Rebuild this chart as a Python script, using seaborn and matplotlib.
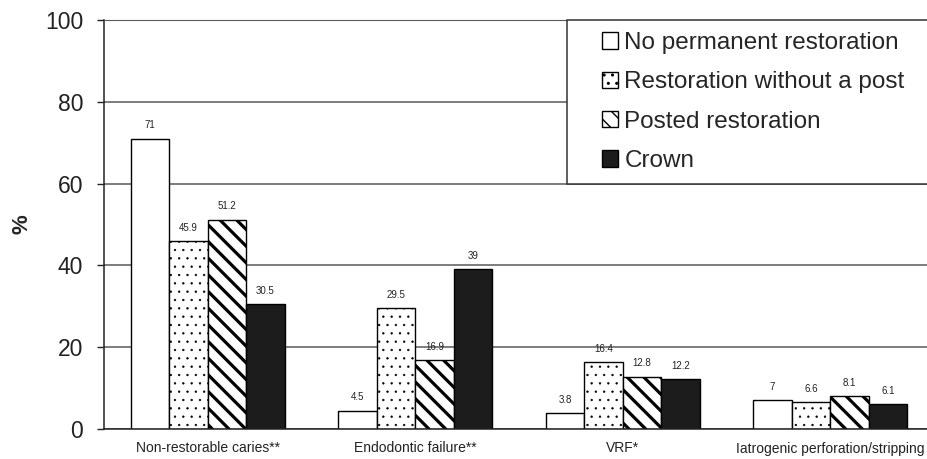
import numpy as np
import pandas as pd
import matplotlib
matplotlib.use('Agg')
import matplotlib.pyplot as plt
import seaborn as sns
from matplotlib.patches import Patch, Rectangle
from matplotlib.legend_handler import HandlerPatch

# data
causes = ['Non-restorable caries**', 'Endodontic failure**', 'VRF*',
          'Iatrogenic perforation/stripping']
restorations = ['No permanent restoration', 'Restoration without a post',
                'Posted restoration', 'Crown']
no_permanent = [71, 4.5, 3.8, 7]
without_post = [45.9, 29.5, 16.4, 6.6]
posted = [51.2, 16.9, 12.8, 8.1]
crown = [30.5, 39, 12.2, 6.1]

df = pd.DataFrame({
    'cause': causes * 4,
    'type': np.repeat(restorations, len(causes)),
    'pct': no_permanent + without_post + posted + crown,
})

# styles per restoration type
fills = ['white', 'white', 'white', '#1c1c1c']
hatches = [None, '..', '\\\\', None]
hatch_lws = [1.0, 0.45, 2.3, 1.0]

sns.set_style('white')
plt.rcParams['font.family'] = ['Liberation Sans', 'DejaVu Sans']

fig = plt.figure(figsize=(9.27, 4.59), dpi=100)
ax = fig.add_axes([104 / 927, 30 / 459, 830 / 927, 409 / 459])

sns.barplot(data=df, x='cause', y='pct', hue='type', order=causes,
            hue_order=restorations, palette=fills, saturation=1,
            width=0.74, edgecolor='black', linewidth=1, legend=False, ax=ax)

for cont, h, hlw in zip(ax.containers, hatches, hatch_lws):
    for bar in cont:
        if h:
            bar.set_hatch(h)
        if hasattr(bar, 'set_hatch_linewidth'):
            bar.set_hatch_linewidth(hlw)
    ax.bar_label(cont, fmt='%g', padding=6, fontsize=7, color='#222222')

ax.set_xlim(-0.5, 3.5)
ax.set_ylim(0, 100)
ax.set_yticks(range(0, 101, 20))
ax.set_xticks([-0.5, 0.5, 1.5, 2.5], minor=True)
ax.tick_params(axis='x', which='major', length=0, pad=9, labelsize=10,
               colors='#222222')
ax.tick_params(axis='x', which='minor', length=4, width=1, direction='out',
               color='#333333')
ax.tick_params(axis='y', length=5, width=1, direction='out', pad=10,
               labelsize=16.5, colors='#222222', left=True)
ax.set_xlabel('')
ax.set_ylabel('%', fontsize=16, weight='bold', labelpad=9)

ax.yaxis.grid(True, color='#5a5a5a', linewidth=1.1)
ax.set_axisbelow(True)
for side in ['left', 'bottom']:
    ax.spines[side].set_color('#222222')
    ax.spines[side].set_linewidth(1.1)
ax.spines['top'].set_color('#5a5a5a')
ax.spines['right'].set_visible(False)


# small square legend handle sitting at the right end of the handle box
def square_handle(legend, orig_handle, xdescent, ydescent, width, height, fontsize):
    side = 0.68 * fontsize
    return Rectangle((width - side - xdescent, -ydescent + (height - side) / 2),
                     side, side)


handles = []
for f, h, hlw in zip(fills, hatches, hatch_lws):
    p = Patch(facecolor=f, edgecolor='black', hatch=h, linewidth=1)
    if hasattr(p, 'set_hatch_linewidth'):
        p.set_hatch_linewidth(hlw)
    handles.append(p)

leg = ax.legend(handles, restorations, loc='upper left',
                bbox_to_anchor=(0.558, 0.0, 0.5, 1.0), mode='expand',
                borderaxespad=0, fontsize=17.5, frameon=True, fancybox=False,
                framealpha=1, edgecolor='#333333', borderpad=0.5,
                labelspacing=0.71, handlelength=1.6, handleheight=0.7,
                handletextpad=0.25,
                handler_map={Patch: HandlerPatch(patch_func=square_handle)})
leg.get_frame().set_linewidth(1.1)

plt.savefig('out.png', dpi=100)
